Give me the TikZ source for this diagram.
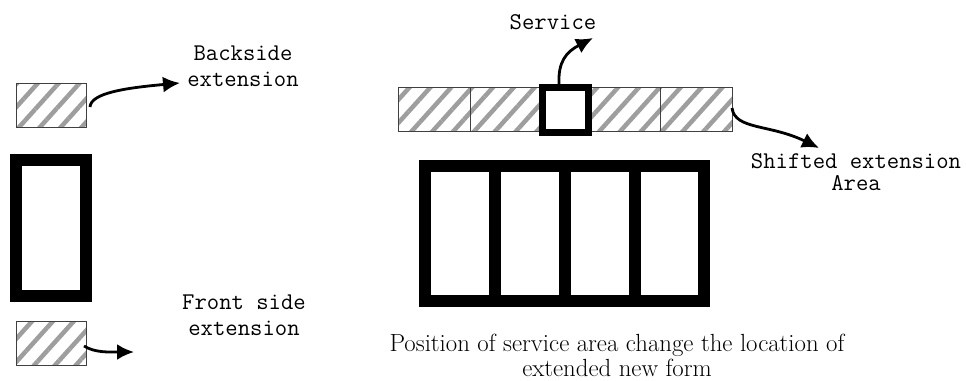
\documentclass[tikz,border=0pt]{standalone}
\usepackage{fontspec}
\usetikzlibrary{patterns.meta,arrows.meta}
\begin{document}
\begin{tikzpicture}[x=1pt,y=-1pt,
  hatch/.style={draw=black!75,line width=0.8pt,
    pattern={Lines[angle=48,distance=15.5pt,line width=4.5pt]},pattern color=black!38,
    inner sep=0pt,outer sep=0pt},
  thickbox/.style={draw=black,line width=12pt,inner sep=0pt,outer sep=0pt,
    minimum width=70pt,minimum height=135pt},
  lbl/.style={font=\ttfamily\fontsize{24}{26}\selectfont,align=center,inner sep=0pt},
  arr/.style={line width=2.8pt,-{Latex[length=17pt,width=16pt]}}]
\useasboundingbox (0,0) rectangle (966,380);
% left column
\node[hatch,minimum width=70pt,minimum height=44pt] (back) at (51,105) {};
\node[thickbox,minimum height=135.5pt] (form) at (51,227.75) {};
\node[hatch,minimum width=70pt,minimum height=44pt] (front) at (51,343) {};
\node[lbl] (backlbl) at (243,66) {Backside\\extension};
\node[lbl] (frontlbl) at (244,315) {Front side\\extension};
\coordinate (backs) at (90,107);
\coordinate (backe) at (180,83);
\coordinate (fronts) at (84,346);
\coordinate (fronte) at (134,352);
\draw[arr] (backs) .. controls (91,93) and (125,88) .. (backe);
\draw[arr] (fronts) .. controls (95,353) and (110,352) .. (fronte);
% right: extension bar
\node[hatch,minimum width=72pt,minimum height=44pt] (c1) at (434,109) {};
\node[hatch,minimum width=72pt,minimum height=44pt] (c2) at (506,109) {};
\node[hatch,minimum width=72pt,minimum height=44pt] (c3) at (624,109) {};
\node[hatch,minimum width=72pt,minimum height=44pt] (c4) at (696,109) {};
\node[draw=black,line width=7pt,fill=white,inner sep=0pt,outer sep=0pt,
  minimum width=46pt,minimum height=44.5pt] (serv) at (565.5,109.75) {};
\node[lbl] (servlbl) at (553,22) {Service};
\node[lbl,font=\ttfamily\fontsize{24}{22}\selectfont] (shiftlbl) at (856,172) {Shifted extension\\Area};
\coordinate (servs) at (559,84);
\coordinate (serve) at (593,38);
\coordinate (shifts) at (732,108);
\coordinate (shifte) at (819,148);
\draw[arr] (servs) .. controls (558,62) and (566,52) .. (serve);
\draw[arr] (shifts) .. controls (735,130) and (770,124) .. (shifte);
% big form
\node[thickbox] (f1) at (460,233.5) {};
\node[thickbox] (f2) at (530,233.5) {};
\node[thickbox] (f3) at (600,233.5) {};
\node[thickbox,minimum width=69pt] (f4) at (669.5,233.5) {};
\node[font=\fontsize{24.8}{25}\selectfont,align=center,inner sep=0pt] (cap) at (617,355)
  {Position of service area change the location of\\extended new form};
\end{tikzpicture}
\end{document}
